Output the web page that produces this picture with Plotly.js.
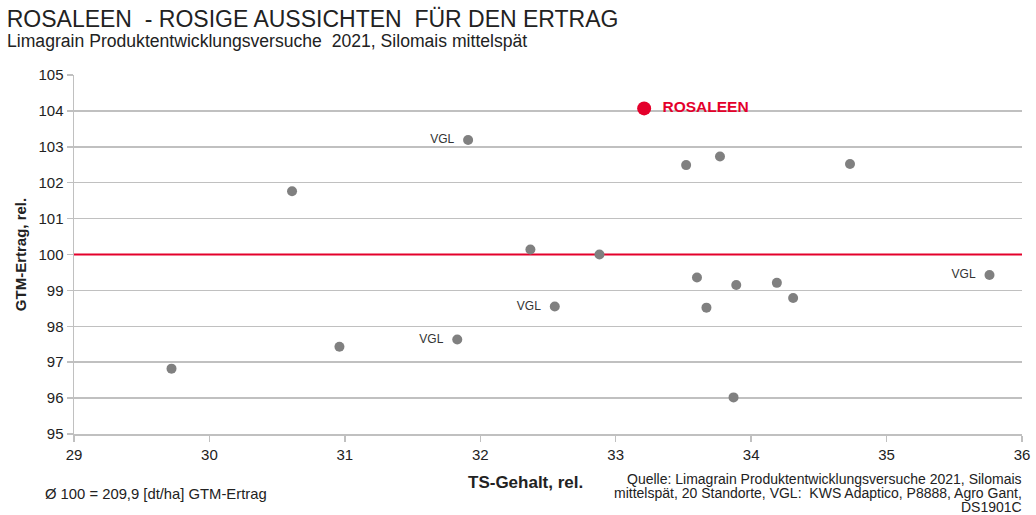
<!DOCTYPE html>
<html>
<head>
<meta charset="utf-8">
<script src="https://cdn.plot.ly/plotly-3.0.1.min.js"></script>
<style>html,body{margin:0;padding:0;background:#fff;}#chart{width:1036px;height:515px;}</style>
</head>
<body>
<div id="chart"></div>
<script>
// Data
const otherX = [29.72, 30.61, 30.96, 32.37, 32.88, 33.52, 33.77, 34.73, 33.60, 33.67, 33.89, 34.19, 34.31, 33.87];
const otherY = [96.82, 101.76, 97.43, 100.14, 100.00, 102.49, 102.73, 102.52, 99.36, 98.52, 99.15, 99.21, 98.79, 96.02];
const vglX = [31.91, 32.55, 31.83, 35.76];
const vglY = [103.19, 98.55, 97.63, 99.43];
const vglLabels = ["VGL", "VGL", "VGL", "VGL"];
const rosX = [33.21];
const rosY = [104.07];
const rosLabels = ["ROSALEEN"];
const baseline = 100;
const xTicks = [29, 30, 31, 32, 33, 34, 35, 36];
const yTicks = [95, 96, 97, 98, 99, 100, 101, 102, 103, 104, 105];
const noteLines = [
  "Quelle: Limagrain Produktentwicklungsversuche 2021, Silomais",
  "mittelspät, 20 Standorte, VGL:  KWS Adaptico, P8888, Agro Gant,",
  "DS1901C"
];

const font = "Liberation Sans, Arial, sans-serif";
const gray = "#808080";
const red = "#e4002b";
const grid = "#c0c0c0";

const xMin = xTicks[0], xMax = xTicks[xTicks.length - 1];

const traces = [
  {x: [xMin, xMax], y: [baseline, baseline], mode: "lines", type: "scatter",
   line: {color: red, width: 2}, hoverinfo: "skip", showlegend: false, cliponaxis: false},
  {x: otherX, y: otherY, mode: "markers", type: "scatter",
   marker: {color: gray, size: 10}, hoverinfo: "x+y", showlegend: false},
  {x: vglX, y: vglY, mode: "markers+text", type: "scatter", text: vglLabels,
   texttemplate: "%{text}\u00a0\u00a0", textposition: "middle left",
   textfont: {family: font, size: 12, color: "#333"},
   marker: {color: gray, size: 10}, showlegend: false},
  {x: rosX, y: rosY, mode: "markers+text", type: "scatter", text: rosLabels,
   texttemplate: "\u00a0\u00a0%{text}", textposition: "middle right",
   textfont: {family: font, size: 15.5, color: red, weight: "bold"},
   marker: {color: red, size: 14}, showlegend: false}
];

const PH = 434 - 74.7; // plot height px (for paper coords of notes)
const py = p => (434 - p) / PH;
const px = p => (p - 74) / 948;

const annotations = [
  {text: "Limagrain Produktentwicklungsversuche  2021, Silomais mittelspät", xref: "paper", yref: "paper",
   x: px(5), y: py(41), xanchor: "left", yanchor: "middle", showarrow: false,
   font: {family: font, size: 17.6, color: "#222"}},
  {text: "TS-Gehalt, rel.", xref: "paper", yref: "paper",
   x: px(525), y: py(483), xanchor: "center", yanchor: "middle", showarrow: false,
   font: {family: font, size: 17, color: "#222", weight: "bold"}},
  {text: "Ø 100 = 209,9 [dt/ha] GTM-Ertrag", xref: "paper", yref: "paper",
   x: px(43), y: py(494), xanchor: "left", yanchor: "middle", showarrow: false,
   font: {family: font, size: 14.8, color: "#222"}}
];
noteLines.forEach((t, i) => annotations.push({
  text: t, xref: "paper", yref: "paper", x: px(1024), y: py(479 + 14 * i), xanchor: "right", yanchor: "middle",
  showarrow: false, font: {family: font, size: 14, color: "#222"}
}));

const layout = {
  width: 1036, height: 515,
  margin: {l: 74, r: 14, t: 75, b: 81},
  paper_bgcolor: "#fff", plot_bgcolor: "#fff",
  font: {family: font, color: "#222"},
  title: {text: "ROSALEEN  - ROSIGE AUSSICHTEN  FÜR DEN ERTRAG", xref: "container", x: 0.0065, xanchor: "left",
          yref: "container", y: 0.964, yanchor: "middle", font: {family: font, size: 23, color: "#222"}},
  xaxis: {range: [xMin, xMax], tickvals: xTicks, ticktext: xTicks.map(String), showgrid: false, zeroline: false,
          showline: true, linecolor: grid, linewidth: 1.5, ticks: "outside", ticklen: 6, tickcolor: grid, tickwidth: 1.5,
          tickfont: {family: font, size: 15, color: "#222"}, fixedrange: true},
  yaxis: {range: [95, 105], tickvals: yTicks, ticktext: yTicks.map(String), showgrid: true, gridcolor: grid, gridwidth: 1.5,
          zeroline: false, showline: true, linecolor: grid, linewidth: 1.5, ticks: "outside", ticklen: 6, tickcolor: grid, tickwidth: 1.5,
          tickfont: {family: font, size: 15, color: "#222"}, fixedrange: true,
          title: {text: "GTM-Ertrag, rel.", font: {family: font, size: 15, color: "#222", weight: "bold"}, standoff: 8}},
  annotations: annotations
};

Plotly.newPlot("chart", traces, layout, {displayModeBar: false, staticPlot: true});
</script>
</body>
</html>
